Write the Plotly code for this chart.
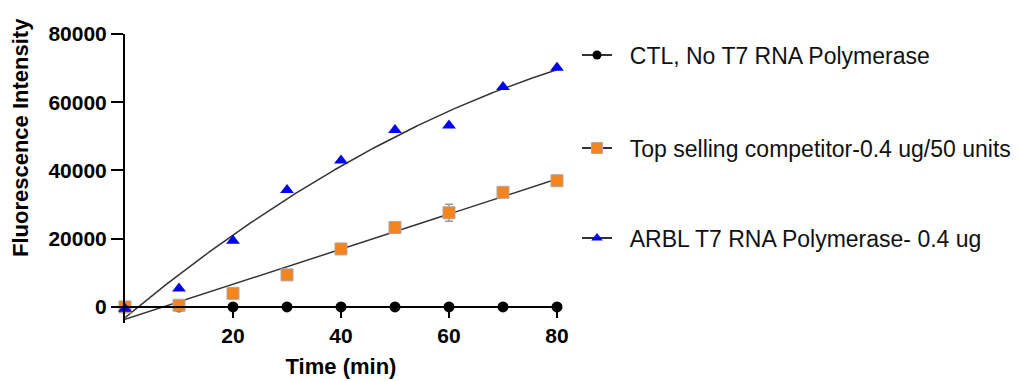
import numpy as np
import plotly.graph_objects as go

time_min = [0, 10, 20, 30, 40, 50, 60, 70, 80]
ctl = [0, 0, 0, 0, 0, 0, 0, 0, 0]
competitor = [0, 500, 4000, 9400, 17000, 23300, 27600, 33600, 37000]
competitor_err = [0, 0, 0, 0, 0, 0, 2500, 0, 0]
arbl = [-500, 5400, 19400, 34300, 42900, 51900, 53200, 64500, 70100]

names = ["CTL, No T7 RNA Polymerase",
         "Top selling competitor-0.4 ug/50 units",
         "ARBL T7 RNA Polymerase- 0.4 ug"]

y_range = [-4700, 80000]
x_range = [0, 80]
y_ticks = [0, 20000, 40000, 60000, 80000]
x_ticks = [20, 40, 60, 80]

BLACK = "#000000"
ORANGE = "#F5841F"
BLUE = "#0000EE"
FIT = "#333333"
FONT = "Arial, Liberation Sans, sans-serif"

xs = np.linspace(0, 80, 200)
fit_ctl = np.polyval(np.polyfit(time_min, ctl, 1), xs)
fit_comp = np.polyval(np.polyfit(time_min, competitor, 1), xs)
fit_arbl = np.polyval(np.polyfit(time_min, arbl, 2), xs)

fig = go.Figure()

# fit curves
for fy in (fit_ctl, fit_comp, fit_arbl):
    fig.add_trace(go.Scatter(x=xs, y=fy, mode="lines", showlegend=False,
                             line=dict(color=FIT, width=1.5), hoverinfo="skip",
                             cliponaxis=False))

fig.add_trace(go.Scatter(x=time_min, y=ctl, mode="markers", showlegend=False,
                         marker=dict(symbol="circle", size=11, color=BLACK),
                         cliponaxis=False))
fig.add_trace(go.Scatter(x=time_min, y=competitor, mode="markers", showlegend=False,
                         error_y=dict(type="data", array=competitor_err, color="#999999",
                                      thickness=1.5, width=4),
                         marker=dict(symbol="square", size=12, color=ORANGE,
                                     line=dict(color="#A8A8A8", width=1)),
                         cliponaxis=False))
fig.add_trace(go.Scatter(x=time_min, y=arbl, mode="markers", showlegend=False,
                         marker=dict(symbol="triangle-up", size=12, color=BLUE),
                         cliponaxis=False))

# legend entries
leg_specs = [("legend", names[0], "circle", 9, BLACK, None),
             ("legend2", names[1], "square", 11, ORANGE, "#A8A8A8"),
             ("legend3", names[2], "triangle-up", 10, BLUE, None)]
for lg, nm, sym, sz, col, lc in leg_specs:
    mk = dict(symbol=sym, size=sz, color=col)
    if lc:
        mk["line"] = dict(color=lc, width=1)
    fig.add_trace(go.Scatter(x=[None], y=[None], mode="lines+markers",
                             name="\u00a0\u00a0" + nm,
                             legend=lg, line=dict(color="#333333", width=2), marker=mk))

px_l, px_r, px_t, px_b = 125, 557, 34, 323
W, H = 1020, 381

def paper_x(px):
    return (px - px_l) / (px_r - px_l)

def paper_y(py):
    return (px_b - py) / (px_b - px_t)

leg_font = dict(family=FONT, size=23, color="#111111")
legend_common = dict(x=paper_x(577), xanchor="left", yanchor="middle",
                     font=leg_font, bgcolor="rgba(0,0,0,0)", borderwidth=0)

tick_font = dict(family=FONT, size=21, color="black", weight="bold")
title_font = dict(family=FONT, size=22, color="black", weight="bold")

fig.update_layout(
    width=W, height=H,
    margin=dict(l=px_l, r=W - px_r, t=px_t, b=H - px_b, autoexpand=False),
    plot_bgcolor="white", paper_bgcolor="white",
    legend=dict(y=paper_y(55), **legend_common),
    legend2=dict(y=paper_y(148), **legend_common),
    legend3=dict(y=paper_y(238), **legend_common),
    xaxis=dict(range=x_range, tickvals=x_ticks, ticks="outside", ticklen=10, tickwidth=2,
               tickcolor="black", showline=True, linecolor="black", linewidth=2,
               showgrid=False, zeroline=False, anchor="free", automargin=False,
               position=(0 - y_range[0]) / (y_range[1] - y_range[0]),
               tickfont=tick_font,
               title=dict(text="Time (min)", standoff=11, font=title_font)),
    yaxis=dict(range=y_range, tickvals=y_ticks, tickformat="d", ticks="outside", ticklen=12,
               tickwidth=2, tickcolor="black", showline=True, linecolor="black", linewidth=2,
               showgrid=False, zeroline=False, automargin=False,
               tickfont=tick_font),
    annotations=[dict(text="Fluorescence Intensity", textangle=-90, showarrow=False,
                      xref="paper", yref="paper", x=paper_x(20), y=paper_y(138),
                      xanchor="center", yanchor="middle", font=title_font)],
)

fig.write_html("out.html", post_script="document.body.style.margin='0px';",
               config={"displayModeBar": False})
